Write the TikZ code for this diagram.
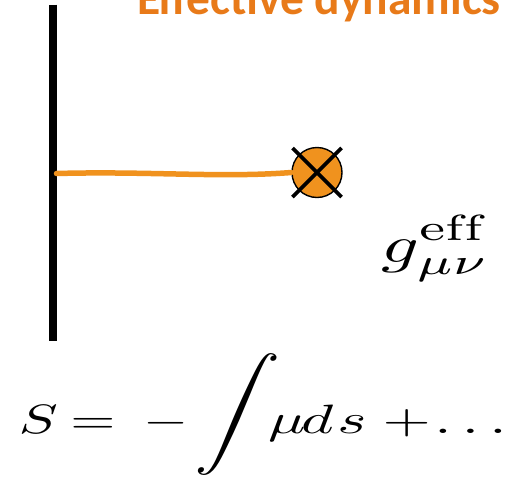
\documentclass[tikz,border=0pt]{standalone}
\usepackage{fontspec}
\newfontfamily\titlefont{Carlito}
\usetikzlibrary{calc}
\definecolor{titleorange}{RGB}{232,122,25}
\definecolor{lineorange}{RGB}{240,146,30}
\tikzset{
  wallline/.style={line width=7.6pt, black},
  orangeline/.style={line width=5.5pt, lineorange, line cap=round},
  particle/.style={circle, draw=black, line width=1.4pt, fill=lineorange, minimum size=50pt, inner sep=0pt},
  crossline/.style={line width=3.6pt, black},
  lbl/.style={inner sep=0pt, outer sep=0pt}
}
\begin{document}
\begin{tikzpicture}[x=1pt,y=-1pt]
\useasboundingbox (0,0) rectangle (514,477);
% title
\node[lbl, anchor=base west, text=titleorange] (title) at (137,14)
  {\titlefont\bfseries\fontsize{47.5}{50}\selectfont Effective dynamics};
% wall
\coordinate (wtop) at (52.8,4.7);
\coordinate (wbot) at (52.8,340.7);
\draw[wallline] (wtop) -- (wbot);
% particle
\node[particle] (p) at (317,172.5) {};
\coordinate (w) at (56.5,173.5);
\draw[orangeline] (w) .. controls (150,171) and (220,178) .. (p.west);
\draw[crossline] ($(p.center)+(-24.5,-24.5)$) -- ($(p.center)+(24.5,24.5)$);
\draw[crossline] ($(p.center)+(24.5,-24.5)$) -- ($(p.center)+(-24.5,24.5)$);
% labels
\node[lbl, anchor=base west] (g) at (381.6,262)
  {\scalebox{7.4}[5.2]{$\displaystyle g^{\mathrm{eff}}_{\mu\nu}$}};
% action
\node[lbl, anchor=base west] (eqL) at (18.8,433)
  {\scalebox{5.8}[4.1]{$S\hspace{2.2pt}{=}\hspace{4.8pt}{-}$}};
\begin{scope}[shift={(238,414)}, xslant=0.21]
  \node[lbl, transform shape, anchor=center] (eqI) at (0,0)
    {\scalebox{6.2}[5.49]{$\displaystyle\int$}};
\end{scope}
\node[lbl, anchor=base west] (eqR) at (268,433)
  {\scalebox{6.2}[4.1]{$\mu\hspace{-0.69pt}d\hspace{0.67pt}s\hspace{2.57pt}{+}\hspace{0.6pt}{\ldots}$}};
\end{tikzpicture}
\end{document}
